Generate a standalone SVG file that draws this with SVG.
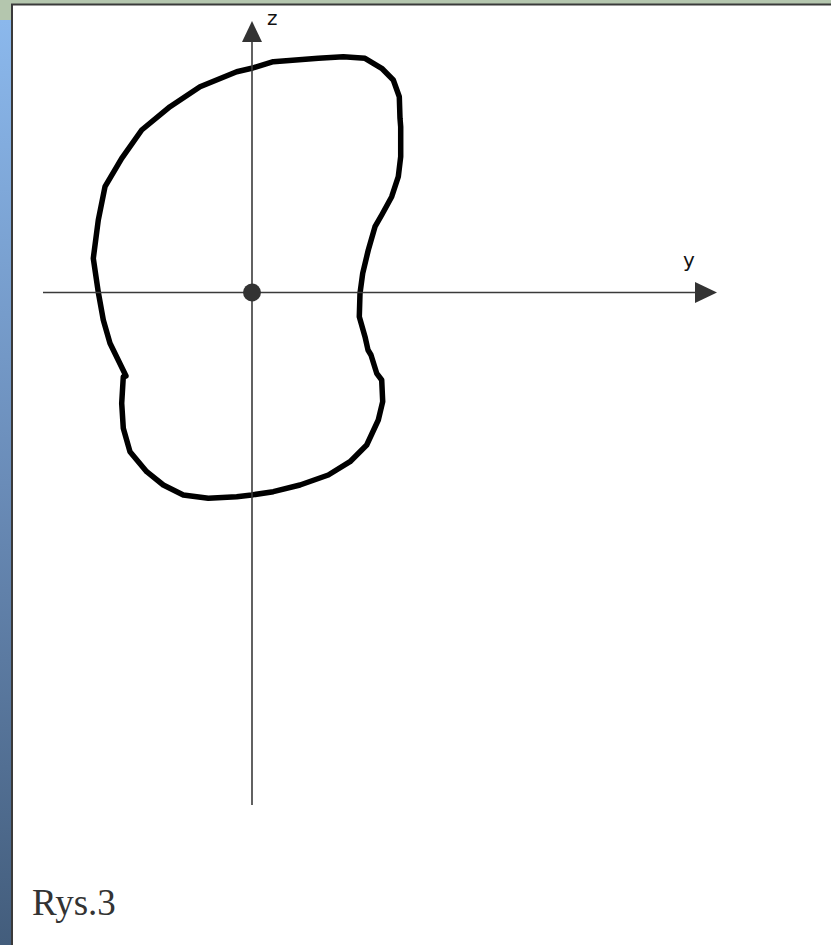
<svg xmlns="http://www.w3.org/2000/svg" width="831" height="945" viewBox="0 0 831 945">
  <defs>
    <linearGradient id="side" x1="0" y1="0" x2="0" y2="1">
      <stop offset="0" stop-color="#8bb8ec"/>
      <stop offset="0.5" stop-color="#6a8cb8"/>
      <stop offset="1" stop-color="#435d7c"/>
    </linearGradient>
    <style>
      .axis { stroke: #3a3a3a; stroke-width: 1.6; fill: none; }
      .head { fill: #333333; }
      .lbl { font-family: "DejaVu Sans", "Liberation Sans", sans-serif; font-size: 20px; fill: #111111; }
      .cap { font-family: "Liberation Serif", serif; font-size: 37px; fill: #333333; }
      .shape { fill: none; stroke: #000000; stroke-width: 5.5; stroke-linejoin: round; stroke-linecap: round; }
    </style>
  </defs>
  <rect x="0" y="0" width="831" height="945" fill="#b4c6ae"/>
  <rect x="0" y="20" width="12" height="925" fill="url(#side)"/>
  <rect x="12" y="4.5" width="830" height="950" fill="#ffffff" stroke="#3a3a3a" stroke-width="2"/>

  <g id="shape">
    <path class="shape" d="M251.7,68.3 L273.3,61.7 L318.3,58.3 L343.3,56.7 L365,58.3 L381.7,68.3 L393.3,80 L399.3,96.7 L400,118.3 L400.7,126.7 L400.7,156.7 L398.3,176.7 L391.7,196.7 L381.7,215 L375,226.7 L368.3,250 L362.7,273.3 L360,293.3 L359.3,316.7 L365,336.7 L368,350 L371,355 L376.7,373.3 L381.7,380 L382.7,401.7 L378.3,420 L366.7,445 L350,461.7 L328.3,475 L300,485 L273.3,491.7 L251.7,495 L236.7,496.7 L208.3,498.3 L183.3,495 L163.3,485 L146.7,471.7 L130,451.7 L123.3,428.3 L121.7,403.3 L123.3,376.7 L126,376 L110,343.3 L103.3,320 L98.3,292.3 L93.3,258.3 L98.3,220 L105,186.7 L121.7,158.3 L141.7,130 L170,106.7 L200,86.7 L236.7,71.7 Z"/>
  </g>

  <g id="connectors">
    <line class="axis" x1="252" y1="40" x2="252" y2="805"/>
    <polygon class="head" points="252,21 262,42 242,42"/>
    <line class="axis" x1="43" y1="292.5" x2="697" y2="292.5"/>
    <polygon class="head" points="717,292.5 695,282 695,303"/>
  </g>

  <g id="origin">
    <circle cx="252" cy="292.5" r="9" fill="#333333"/>
  </g>

  <g id="label-z"><text class="lbl" x="267" y="25">z</text></g>
  <g id="label-y"><text class="lbl" x="683" y="267">y</text></g>
  <g id="caption"><text class="cap" x="32" y="915">Rys.3</text></g>
</svg>
